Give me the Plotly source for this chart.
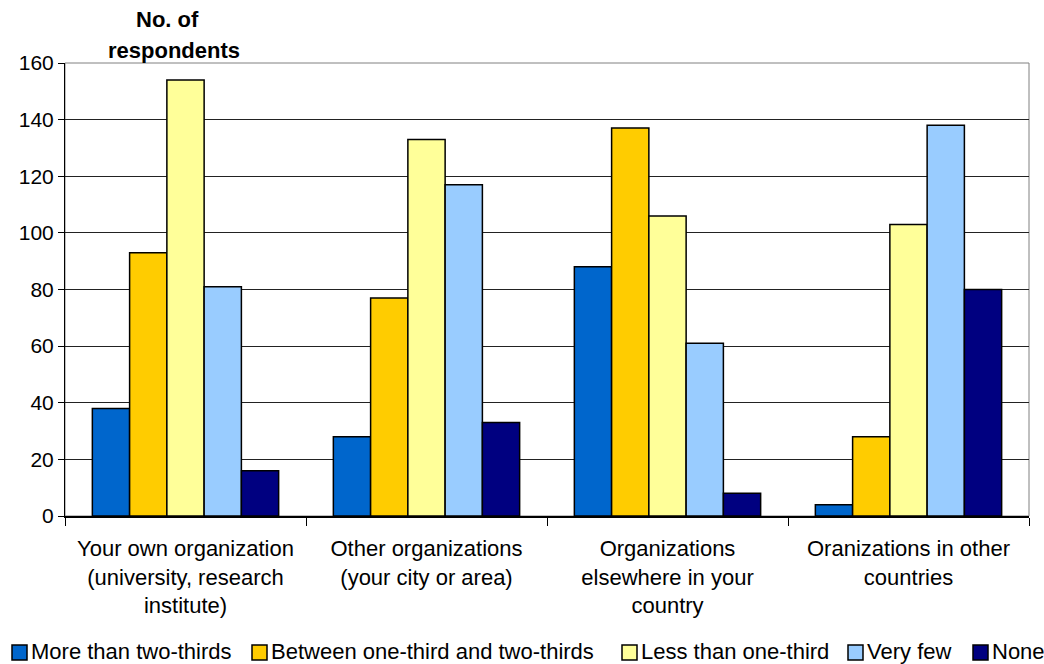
import plotly.graph_objects as go

categories = [
    "Your own organization<br>(university, research<br>institute)",
    "Other organizations<br>(your city or area)",
    "Organizations<br>elsewhere in your<br>country",
    "Oranizations in other<br>countries",
]
series_names = [
    "More than two-thirds",
    "Between one-third and two-thirds",
    "Less than one-third",
    "Very few",
    "None",
]
more_than_two_thirds = [38, 28, 88, 4]
between_one_and_two_thirds = [93, 77, 137, 28]
less_than_one_third = [154, 133, 106, 103]
very_few = [81, 117, 61, 138]
none_vals = [16, 33, 8, 80]
colors = ["#0066CC", "#FFCC00", "#FFFF99", "#99CCFF", "#000080"]
y_ticks = [0, 20, 40, 60, 80, 100, 120, 140, 160]

values = [more_than_two_thirds, between_one_and_two_thirds, less_than_one_third, very_few, none_vals]

W, H = 1044, 664
ML, MR, MT, MB = 65, 15, 63, 148
PW, PH = W - ML - MR, H - MT - MB


def px_x(p):
    return (p - ML) / PW


def px_y(p):
    return (H - MB - p) / PH


fig = go.Figure()
for name, vals, col in zip(series_names, values, colors):
    fig.add_trace(go.Bar(
        x=categories, y=vals, name=name,
        marker=dict(color=col, line=dict(color="black", width=1.5)),
    ))

font = "Liberation Sans, Arial, sans-serif"

# legend drawn as shapes + text (layout only)
legend_square_left = [12, 252, 622, 848, 973]
shapes = [dict(type="rect", xref="paper", yref="paper", x0=0, x1=1, y0=0, y1=1,
               line=dict(color="#808080", width=1), fillcolor="rgba(0,0,0,0)", layer="below")]
annotations = [
    dict(text="<b>No. of</b>", xref="paper", yref="paper", x=px_x(167), y=px_y(20),
         xanchor="center", yanchor="middle", showarrow=False, font=dict(size=22)),
    dict(text="<b>respondents</b>", xref="paper", yref="paper", x=px_x(174), y=px_y(50),
         xanchor="center", yanchor="middle", showarrow=False, font=dict(size=22)),
]
for name, col, sx in zip(series_names, colors, legend_square_left):
    shapes.append(dict(type="rect", xref="paper", yref="paper",
                       x0=px_x(sx), x1=px_x(sx + 15), y0=px_y(660), y1=px_y(645),
                       line=dict(color="black", width=1.5), fillcolor=col))
    annotations.append(dict(text=name, xref="paper", yref="paper", x=px_x(sx + 18), y=px_y(651),
                            xanchor="left", yanchor="middle", showarrow=False,
                            font=dict(size=22), borderpad=0))

fig.update_layout(
    width=W, height=H,
    margin=dict(l=ML, r=MR, t=MT, b=MB),
    paper_bgcolor="white", plot_bgcolor="white",
    barmode="group", bargap=0.227, bargroupgap=0,
    font=dict(family=font, size=21, color="black"),
    showlegend=False,
    xaxis=dict(
        showline=True, linecolor="black", linewidth=1.5, mirror=False,
        ticks="outside", tickson="boundaries", ticklen=8, tickcolor="black",
        tickfont=dict(size=22), showgrid=False, automargin=False,
        ticklabelstandoff=12,
    ),
    yaxis=dict(
        range=[0, 160], tickvals=y_ticks, ticks="outside", ticklen=6, tickcolor="black",
        showline=True, linecolor="black", linewidth=1, mirror=False,
        showgrid=True, gridcolor="#222222", gridwidth=1,
        tickfont=dict(size=21), zeroline=False, automargin=False,
    ),
    shapes=shapes,
    annotations=annotations,
)
fig.write_html("out.html", config={"displayModeBar": False},
               post_script="document.body.style.margin='0';document.body.style.overflow='hidden';")
